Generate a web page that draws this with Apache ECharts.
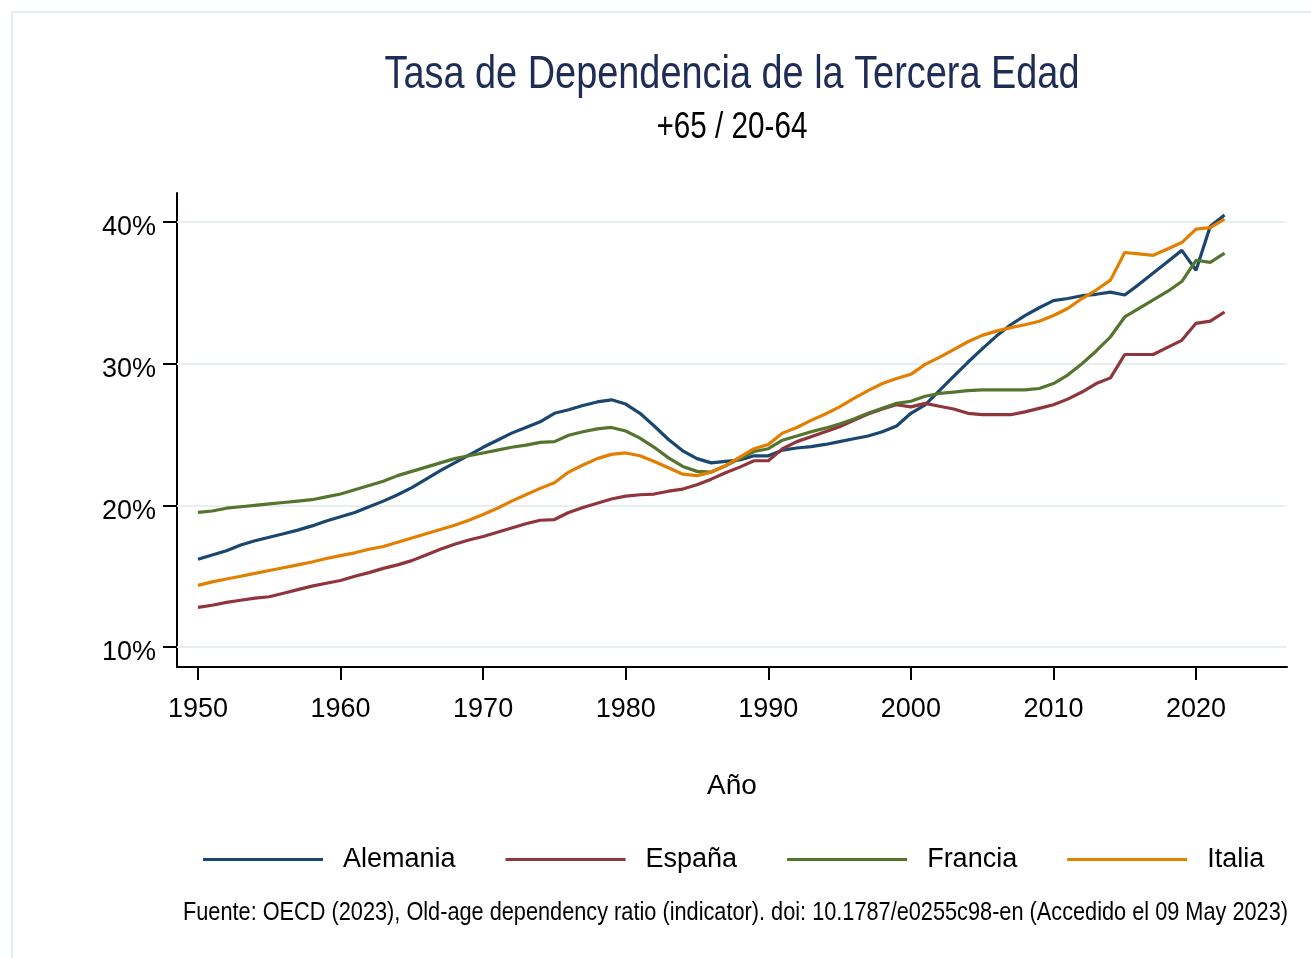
<!DOCTYPE html>
<html>
<head>
<meta charset="utf-8">
<script src="https://cdn.jsdelivr.net/npm/echarts@6/dist/echarts.min.js"></script>
<style>
html,body{margin:0;padding:0;background:#fff;}
#chart{width:1311px;height:958px;}
</style>
</head>
<body>
<div id="chart"></div>
<script>
var startYear = 1950;
var xTicks = [1950, 1960, 1970, 1980, 1990, 2000, 2010, 2020];
var yTicks = [10, 20, 30, 40];
var seriesNames = ['Alemania', 'España', 'Francia', 'Italia'];
var titleText = 'Tasa de Dependencia de la Tercera Edad';
var subtitleText = '+65 / 20-64';
var sourceText = 'Fuente: OECD (2023), Old-age dependency ratio (indicator). doi: 10.1787/e0255c98-en (Accedido el 09 May 2023)';

var alemania = [16.2,16.5,16.8,17.2,17.5,17.75,18.0,18.25,18.55,18.9,
  19.2,19.5,19.9,20.3,20.75,21.25,21.85,22.45,23.0,23.55,
  24.1,24.6,25.1,25.5,25.9,26.5,26.75,27.05,27.3,27.45,
  27.15,26.5,25.6,24.65,23.85,23.3,23.0,23.1,23.2,23.5,
  23.5,23.9,24.05,24.15,24.3,24.5,24.7,24.9,25.2,25.6,
  26.5,27.1,28.1,29.1,30.1,31.05,31.95,32.75,33.4,33.95,
  34.45,34.6,34.8,34.9,35.05,34.85,35.6,36.4,37.2,38.0,
  36.6,39.7,40.5];
var espana = [12.8,12.95,13.15,13.3,13.45,13.55,13.8,14.05,14.3,14.5,
  14.7,15.0,15.25,15.55,15.8,16.1,16.5,16.9,17.25,17.55,
  17.8,18.1,18.4,18.7,18.95,19.0,19.5,19.85,20.15,20.45,
  20.65,20.75,20.8,21.0,21.15,21.45,21.85,22.3,22.7,23.15,
  23.15,24.0,24.5,24.85,25.2,25.55,26.0,26.45,26.8,27.1,
  26.95,27.2,27.0,26.8,26.5,26.4,26.4,26.4,26.6,26.85,
  27.1,27.5,28.0,28.6,29.0,30.65,30.65,30.65,31.15,31.65,
  32.85,33.0,33.65];
var francia = [19.5,19.6,19.8,19.9,20.0,20.1,20.2,20.3,20.4,20.6,
  20.8,21.1,21.4,21.7,22.1,22.4,22.7,23.0,23.3,23.5,
  23.7,23.9,24.1,24.25,24.45,24.5,24.95,25.2,25.4,25.5,
  25.25,24.75,24.1,23.35,22.75,22.4,22.35,22.8,23.3,23.8,
  24.0,24.6,24.9,25.2,25.45,25.75,26.1,26.5,26.85,27.2,
  27.35,27.7,27.9,28.0,28.1,28.15,28.15,28.15,28.15,28.25,
  28.6,29.2,30.0,30.9,31.9,33.3,33.9,34.5,35.1,35.8,
  37.3,37.15,37.8];
var italia = [14.35,14.6,14.8,15.0,15.2,15.4,15.6,15.8,16.0,16.25,
  16.45,16.65,16.9,17.1,17.4,17.7,18.0,18.3,18.6,18.95,
  19.35,19.8,20.3,20.75,21.2,21.6,22.35,22.85,23.3,23.6,
  23.7,23.5,23.1,22.65,22.2,22.1,22.35,22.8,23.4,24.0,
  24.3,25.1,25.5,26.0,26.45,26.95,27.55,28.1,28.6,28.95,
  29.25,29.95,30.45,31.0,31.55,32.0,32.3,32.55,32.75,33.0,
  33.4,33.9,34.6,35.2,35.9,37.85,37.75,37.65,38.1,38.55,
  39.5,39.6,40.2];

var colors = ['#1a476f', '#90353b', '#55752f', '#e37e00'];
var FONT = "'Liberation Sans', Arial, Helvetica, sans-serif";

function pairs(vals) {
  var out = [];
  for (var i = 0; i < vals.length; i++) out.push([startYear + i, vals[i]]);
  return out;
}
var allVals = [alemania, espana, francia, italia];

// measure text to emulate the narrow Helvetica of the original
var mctx = document.createElement('canvas').getContext('2d');
function narrowScale(text, size, targetWidth) {
  mctx.font = size + "px 'Liberation Sans', Arial, sans-serif";
  var w = mctx.measureText(text).width;
  return w > 0 ? targetWidth / w : 1;
}
function narrowText(text, size, x, y, align, targetWidth, color) {
  var s = narrowScale(text, size, targetWidth);
  return {
    type: 'text', x: x, y: y, scaleX: s, scaleY: 1, silent: true,
    style: { text: text, fontFamily: FONT, fontSize: size, fill: color,
      align: align, verticalAlign: 'middle' }
  };
}

var series = seriesNames.map(function (name, i) {
  var s = {
    name: name,
    type: 'line',
    data: pairs(allVals[i]),
    symbol: 'none',
    smooth: false,
    lineStyle: { width: 3.2, color: colors[i] },
    itemStyle: { color: colors[i] },
    z: 3
  };
  if (i === 0) {
    s.markLine = {
      silent: true,
      symbol: ['none', 'none'],
      label: { show: false },
      lineStyle: { color: '#e7eff2', width: 2, type: 'solid' },
      z: 1,
      data: yTicks.map(function (v) { return { yAxis: v }; })
    };
  }
  return s;
});

var chart = echarts.init(document.getElementById('chart'), null, { renderer: 'canvas' });
chart.setOption({
  backgroundColor: '#ffffff',
  animation: false,
  color: colors,
  graphic: [{
    type: 'rect',
    shape: { x: 12, y: 12, width: 1330, height: 990 },
    style: { fill: 'none', stroke: '#e6edf0', lineWidth: 2 },
    silent: true,
    z: -10
  },
    narrowText(titleText, 46, 732, 75, 'center', 695, '#1f2d56'),
    narrowText(subtitleText, 36, 732, 128, 'center', 151, '#000000'),
    narrowText(sourceText, 25, 1288, 913, 'right', 1105, '#000000')
  ],
  legend: {
    data: seriesNames,
    left: 198, top: 841, width: 1100,
    icon: 'rect',
    itemWidth: 120, itemHeight: 3,
    itemGap: 50,
    textStyle: { fontFamily: FONT, fontSize: 27, color: '#000', padding: [0, 0, 0, 15] }
  },
  grid: { left: 177, right: 24, top: 193, bottom: 291, containLabel: false, outerBoundsMode: 'none' },
  xAxis: {
    type: 'value',
    min: 1948.53, max: 2026.38,
    name: 'Año',
    nameLocation: 'middle',
    nameGap: 105,
    nameTextStyle: { fontFamily: FONT, fontSize: 28, color: '#000' },
    axisLine: { onZero: false, lineStyle: { color: '#000', width: 2 } },
    axisTick: { show: true, length: 13, customValues: xTicks, lineStyle: { color: '#000', width: 2 } },
    axisLabel: { customValues: xTicks, margin: 29, fontFamily: FONT, fontSize: 27, color: '#000',
      formatter: function (v) { return String(v); } },
    splitLine: { show: false }
  },
  yAxis: {
    type: 'value',
    min: 8.59, max: 42.05,
    axisLine: { onZero: false, lineStyle: { color: '#000', width: 2 } },
    axisTick: { show: true, length: 14, customValues: yTicks, lineStyle: { color: '#000', width: 2 } },
    axisLabel: { customValues: yTicks, margin: 21, fontFamily: FONT, fontSize: 27, color: '#000',
      formatter: function (v) { return '{v|' + v + '%}'; },
      rich: { v: { fontFamily: FONT, fontSize: 27, color: '#000', padding: [12, 0, 0, 0] } } },
    splitLine: { show: false }
  },
  series: series
});
</script>
</body>
</html>
